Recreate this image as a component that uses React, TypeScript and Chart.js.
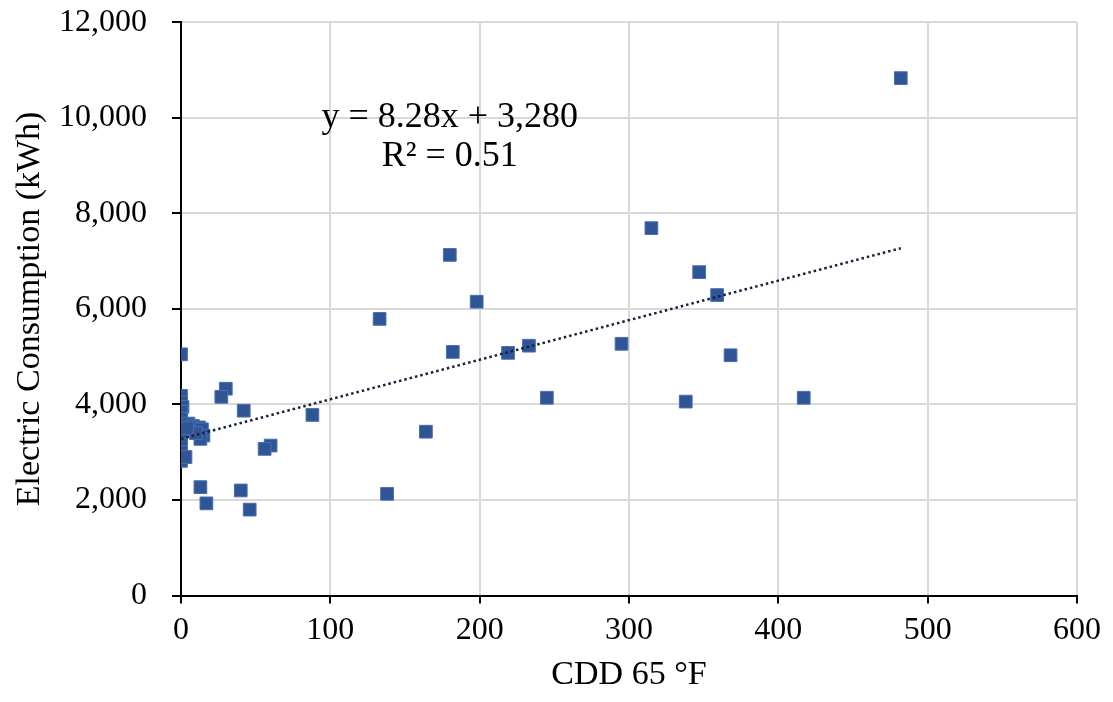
import React, { useEffect, useRef } from "react";
import { Chart, registerables } from "chart.js";

Chart.register(...registerables);

const cddValues: number[] = [
  482, 315, 347, 359, 368, 295, 338, 417, 245, 233, 219, 198, 180, 182, 133, 138, 164,
  88, 60, 56, 42, 30, 27, 40, 46, 17, 13,
  0, 0, 0, 1, 0, 0, 0, 1, 0, 0, 0, 2, 0, 5, 8, 12, 14, 15, 13, 10, 4, 3,
];
const kwhValues: number[] = [
  10830, 7690, 6770, 6290, 5030, 5270, 4060, 4140, 4140, 5230, 5080, 6150, 7130, 5100, 5790, 2130, 3430,
  3780, 3140, 3070, 3870, 4330, 4160, 2200, 1800, 1930, 2270,
  5050, 4180, 4050, 3950, 3850, 3700, 3580, 3450, 3300, 3150, 3000, 2900, 2820, 3600, 3550, 3520, 3480, 3350, 3280, 3400, 3500, 2900,
];
const trendSlope = 8.28;
const trendIntercept = 3280;
const trendRange: number[] = [0, 482];
const equationLines: string[] = ["y = 8.28x + 3,280", "R\u00b2 = 0.51"];
const equationAnchor: number[] = [180, 10010, 9180];
const xTicks: number[] = [0, 100, 200, 300, 400, 500, 600];
const yTicks: number[] = [0, 2000, 4000, 6000, 8000, 10000, 12000];

const FONT = "'Liberation Serif', 'Times New Roman', serif";

export default function App() {
  const ref = useRef<HTMLCanvasElement | null>(null);

  useEffect(() => {
    document.body.style.margin = "0";
    const canvas = ref.current;
    if (!canvas) return;

    const extrasPlugin = {
      id: "extras",
      afterDraw(chart: any) {
        const { ctx, scales, chartArea } = chart;
        ctx.save();
        // short outward tick marks on the y axis
        ctx.setLineDash([]);
        ctx.strokeStyle = "#000";
        ctx.lineWidth = 2;
        ctx.beginPath();
        yTicks.forEach((v) => {
          const py = Math.round(scales.y.getPixelForValue(v));
          ctx.moveTo(chartArea.left - 9, py);
          ctx.lineTo(chartArea.left, py);
        });
        ctx.stroke();
        // regression equation
        const x = scales.x.getPixelForValue(equationAnchor[0]);
        ctx.fillStyle = "#000";
        ctx.font = `36px ${FONT}`;
        ctx.textAlign = "center";
        ctx.textBaseline = "middle";
        ctx.fillText(equationLines[0], x, scales.y.getPixelForValue(equationAnchor[1]));
        ctx.fillText(equationLines[1], x, scales.y.getPixelForValue(equationAnchor[2]));
        ctx.restore();
      },
    };

    const chart = new Chart(canvas, {
      type: "scatter",
      data: {
        datasets: [
          {
            label: "Data",
            data: cddValues.map((c, i) => ({ x: c, y: kwhValues[i] })),
            backgroundColor: "#2f5597",
            borderColor: "#4a70ad",
            borderWidth: 1,
            pointStyle: "rect",
            pointRadius: 9,
            order: 2,
          },
          {
            label: "Trend",
            type: "line",
            data: trendRange.map((c) => ({ x: c, y: trendSlope * c + trendIntercept })),
            borderColor: "#14223a",
            borderWidth: 2.5,
            borderDash: [2.5, 3],
            pointRadius: 0,
            showLine: true,
            fill: false,
            order: 1,
          },
        ],
      },
      options: {
        animation: false,
        responsive: false,
        maintainAspectRatio: false,
        layout: { padding: { top: 4, right: 36, bottom: 10, left: 2 } },
        plugins: {
          legend: { display: false },
          tooltip: { enabled: false },
        },
        scales: {
          x: {
            type: "linear",
            min: 0,
            max: 600,
            afterBuildTicks: (axis: any) => {
              axis.ticks = xTicks.map((v) => ({ value: v }));
            },
            ticks: {
              color: "#000",
              font: { family: FONT, size: 32 },
              padding: 8,
              callback: (v: any) => Number(v).toLocaleString("en-US"),
            },
            grid: {
              color: "#d9d9d9",
              lineWidth: 2,
              tickColor: "#000",
              tickLength: 8,
            },
            border: { color: "#000", width: 2 },
            title: {
              display: true,
              text: "CDD 65 \u00b0F",
              color: "#000",
              font: { family: FONT, size: 34, lineHeight: 1 },
              padding: { top: 0, bottom: 0 },
            },
          },
          y: {
            type: "linear",
            min: 0,
            max: 12000,
            afterBuildTicks: (axis: any) => {
              axis.ticks = yTicks.map((v) => ({ value: v }));
            },
            ticks: {
              color: "#000",
              font: { family: FONT, size: 32 },
              padding: 3,
              callback: (v: any) => Number(v).toLocaleString("en-US"),
            },
            grid: {
              color: "#d9d9d9",
              lineWidth: 2,
              tickColor: "rgba(0,0,0,0)",
              tickLength: 31,
            },
            border: { color: "#000", width: 2 },
            title: {
              display: true,
              text: "Electric Consumption (kWh)",
              color: "#000",
              font: { family: FONT, size: 34, lineHeight: 1 },
              padding: { top: 11, bottom: 9 },
            },
          },
        },
      },
      plugins: [extrasPlugin],
    });

    return () => chart.destroy();
  }, []);

  return (
    <div style={{ width: 1113, height: 702, position: "relative" }}>
      <canvas ref={ref} width={1113} height={702} style={{ display: "block" }} />
    </div>
  );
}
